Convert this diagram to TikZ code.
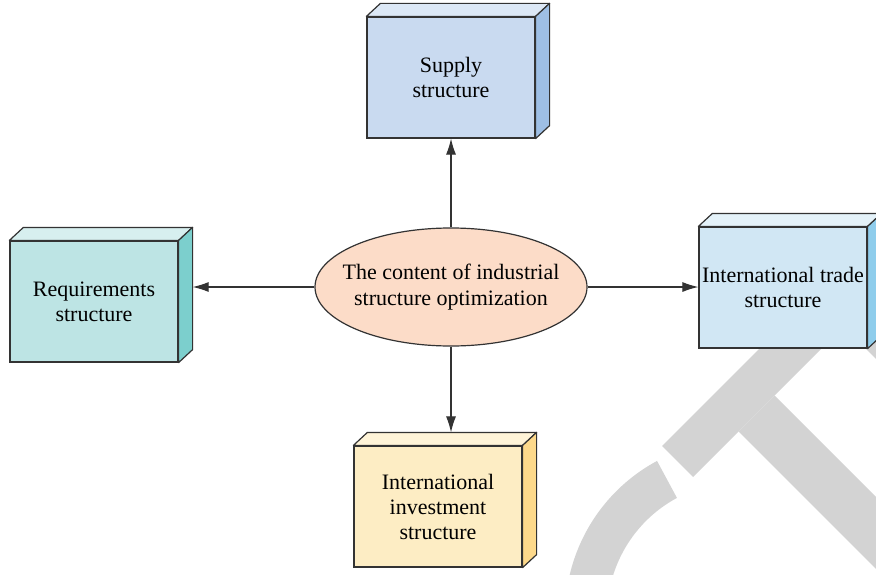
\documentclass[tikz,border=0pt]{standalone}
\usepackage{fontspec}
\setmainfont{Liberation Serif}
\usetikzlibrary{shapes.geometric,arrows.meta}

\definecolor{supF}{HTML}{C9DAF0}
\definecolor{supT}{HTML}{DCE8F6}
\definecolor{supS}{HTML}{9EBFE5}
\definecolor{reqF}{HTML}{BDE4E4}
\definecolor{reqT}{HTML}{D7EFEF}
\definecolor{reqS}{HTML}{7CCFCD}
\definecolor{trdF}{HTML}{D1E7F4}
\definecolor{trdT}{HTML}{E4F2F9}
\definecolor{trdS}{HTML}{8FCDEC}
\definecolor{invF}{HTML}{FDEDC4}
\definecolor{invT}{HTML}{FFF4D8}
\definecolor{invS}{HTML}{FDD98B}
\definecolor{ellF}{HTML}{FCDCC8}
\definecolor{wmark}{HTML}{D3D3D3}
\definecolor{edge}{HTML}{333333}

\tikzset{
    slab/.style={draw=edge, line width=0.6pt, minimum width=84pt, minimum height=60.5pt,
        inner sep=0pt, align=center, font=\fontsize{11}{12.5}\selectfont},
    face/.style={draw=edge, line width=0.6pt, line join=round},
    arr/.style={draw=edge, line width=0.55pt, -{Latex[length=8pt,width=5pt]}},
}

\begin{document}
\begin{tikzpicture}[x=0.5pt,y=0.5pt]
    \useasboundingbox (0,0) rectangle (876,574);
    % watermark
    \begin{scope}
        \clip (0,0) rectangle (876,574);
        \fill[wmark] (662,128) -- (1062,528) -- (1093,497) -- (693,97) -- cycle;
        \fill[wmark] (738.5,142.5) -- (774.5,178.5) -- (1074.5,-121.5) -- (1038.5,-157.5) -- cycle;
        \fill[wmark] (820,271) -- (960,131) -- (960,271) -- cycle;
        \fill[wmark] (740,-41) ++(118.3:175) arc[start angle=118.3, end angle=200, radius=175]
            -- ++(20:42) arc[start angle=200, end angle=118.3, radius=133] -- cycle;
    \end{scope}

    \node[slab, fill=supF] (sup) at (451,496.5) {Supply\\structure};
    \node[slab, fill=reqF] (req) at (94,272.5) {Requirements\\structure};
    \node[slab, fill=trdF] (trd) at (783,286.5) {International trade\\structure};
    \node[slab, fill=invF] (inv) at (438,67.5) {International\\investment\\structure};
    \node[ellipse, draw=edge, line width=0.6pt, fill=ellF, minimum width=136pt, minimum height=59pt,
        inner sep=0pt, label={[align=center, font=\fontsize{11}{13}\selectfont]center:The content of industrial\\structure optimization}]
        (ell) at (451,287) {};

    \foreach \n/\tc/\sc in {sup/supT/supS, req/reqT/reqS, trd/trdT/trdS, inv/invT/invS} {
        \filldraw[face, fill=\tc] (\n.north west) -- ++(14,13) -- ([shift={(14,13)}]\n.north east)
            -- (\n.north east) -- cycle;
        \filldraw[face, fill=\sc] (\n.north east) -- ++(14,13) -- ([shift={(14,13)}]\n.south east)
            -- (\n.south east) -- cycle;
    }

    \coordinate (reqside) at ([shift={(14,0)}]req.east);
    \coordinate (invtop) at ([shift={(0,13)}]inv.north);

    \draw[arr] (ell.north) -- (ell.north |- sup.south);
    \draw[arr] (ell.south) -- (ell.south |- invtop);
    \draw[arr] (ell.west) -- (ell.west -| reqside);
    \draw[arr] (ell.east) -- (ell.east -| trd.west);
\end{tikzpicture}
\end{document}
